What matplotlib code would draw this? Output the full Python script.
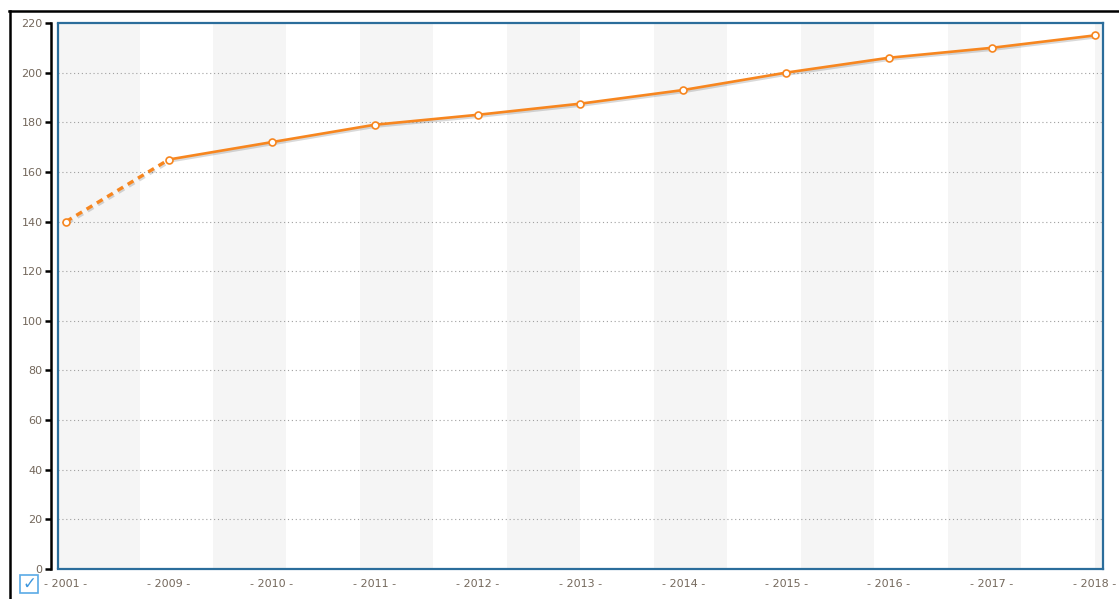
#!/usr/bin/env python
# coding: utf-8

import matplotlib
matplotlib.use("Agg")
import matplotlib.pyplot as plt
import matplotlib.patheffects as pe
from matplotlib.patches import Rectangle
from matplotlib.lines import Line2D

    #========= DATA ======================================================#

YEARS = ["2001", "2009", "2010", "2011", "2012", "2013",
         "2014", "2015", "2016", "2017", "2018"]
VALUES = [140, 165, 172, 179, 183, 187.5, 193, 200, 206, 210, 215]
Y_TICKS = [0, 20, 40, 60, 80, 100, 120, 140, 160, 180, 200, 220]

    #========= STYLE =====================================================#

ORANGE = "#f7861f"
BLUE = "#2b6d9b"
LABEL = "#74685c"
BAND = "#f5f5f5"

    #========= FIGURE ====================================================#

fig = plt.figure(figsize=(11.19, 5.99), dpi=100)
ax = fig.add_axes([58/1119, 1-569/599, (1103-58)/1119, (569-23)/599])

x = list(range(len(YEARS)))
n = len(YEARS) - 1
xmin, xmax = -0.078, n + 0.08
ax.set_xlim(xmin, xmax)
ax.set_ylim(0, 220)

# alternating vertical bands
w = n / 14
ax.axvspan(xmin, w, color=BAND, lw=0, zorder=0)
k = 2
while k * w < xmax:
    ax.axvspan(k*w, min((k+1)*w, xmax), color=BAND, lw=0, zorder=0)
    k += 2

# grid
for t in Y_TICKS[1:-1]:
    ax.axhline(t, color="#a0a0a0", lw=0.8, ls=(0, (1, 2.5)), zorder=1)

shadow = [pe.SimpleLineShadow(offset=(0.8, -1.3), shadow_color="#000000", alpha=0.15), pe.Normal()]
ax.plot(x[:2], VALUES[:2], color=ORANGE, lw=2.4, ls=(0, (2, 1.6)), zorder=3,
        path_effects=shadow, solid_capstyle="butt")
ax.plot(x[1:], VALUES[1:], color=ORANGE, lw=1.9, zorder=3, path_effects=shadow)
ax.plot(x, VALUES, ls="none", marker="o", ms=5, mfc="white", mec=ORANGE,
        mew=1.2, zorder=4)

# frame
for s in ["top", "right", "bottom"]:
    ax.spines[s].set_color(BLUE)
    ax.spines[s].set_linewidth(1.6)
ax.spines["left"].set_position(("outward", 5))
ax.spines["left"].set_color("black")
ax.spines["left"].set_linewidth(1.8)
ax.add_patch(Rectangle((0, 0), 0, 1, transform=ax.transAxes, fill=False,
                       ec=BLUE, lw=1.6, clip_on=False, zorder=5))

ax.set_yticks(Y_TICKS)
ax.set_yticklabels([str(t) for t in Y_TICKS])
ax.tick_params(axis="y", length=4, width=1.8, color="black", labelsize=8,
               labelcolor=LABEL, pad=2)
ax.set_xticks(x)
ax.set_xticklabels(["- " + y + " -" for y in YEARS])
ax.tick_params(axis="x", length=0, labelsize=8, labelcolor=LABEL, pad=7)

# outer border
fig.add_artist(Line2D([9/1119, 1], [1-11/599, 1-11/599], color="black", lw=1.8))
fig.add_artist(Line2D([10/1119, 10/1119], [0, 1-11/599], color="black", lw=1.8))

# checkbox
fig.add_artist(Rectangle((20/1119, 1-593/599), 18/1119, 18/599, fill=False,
                         ec="#5aaae6", lw=1.2))
fig.text(29/1119, 1-584/599, "\u2713", color="#3d96dd", fontsize=12,
         ha="center", va="center")

plt.savefig("out.png", dpi=100)
